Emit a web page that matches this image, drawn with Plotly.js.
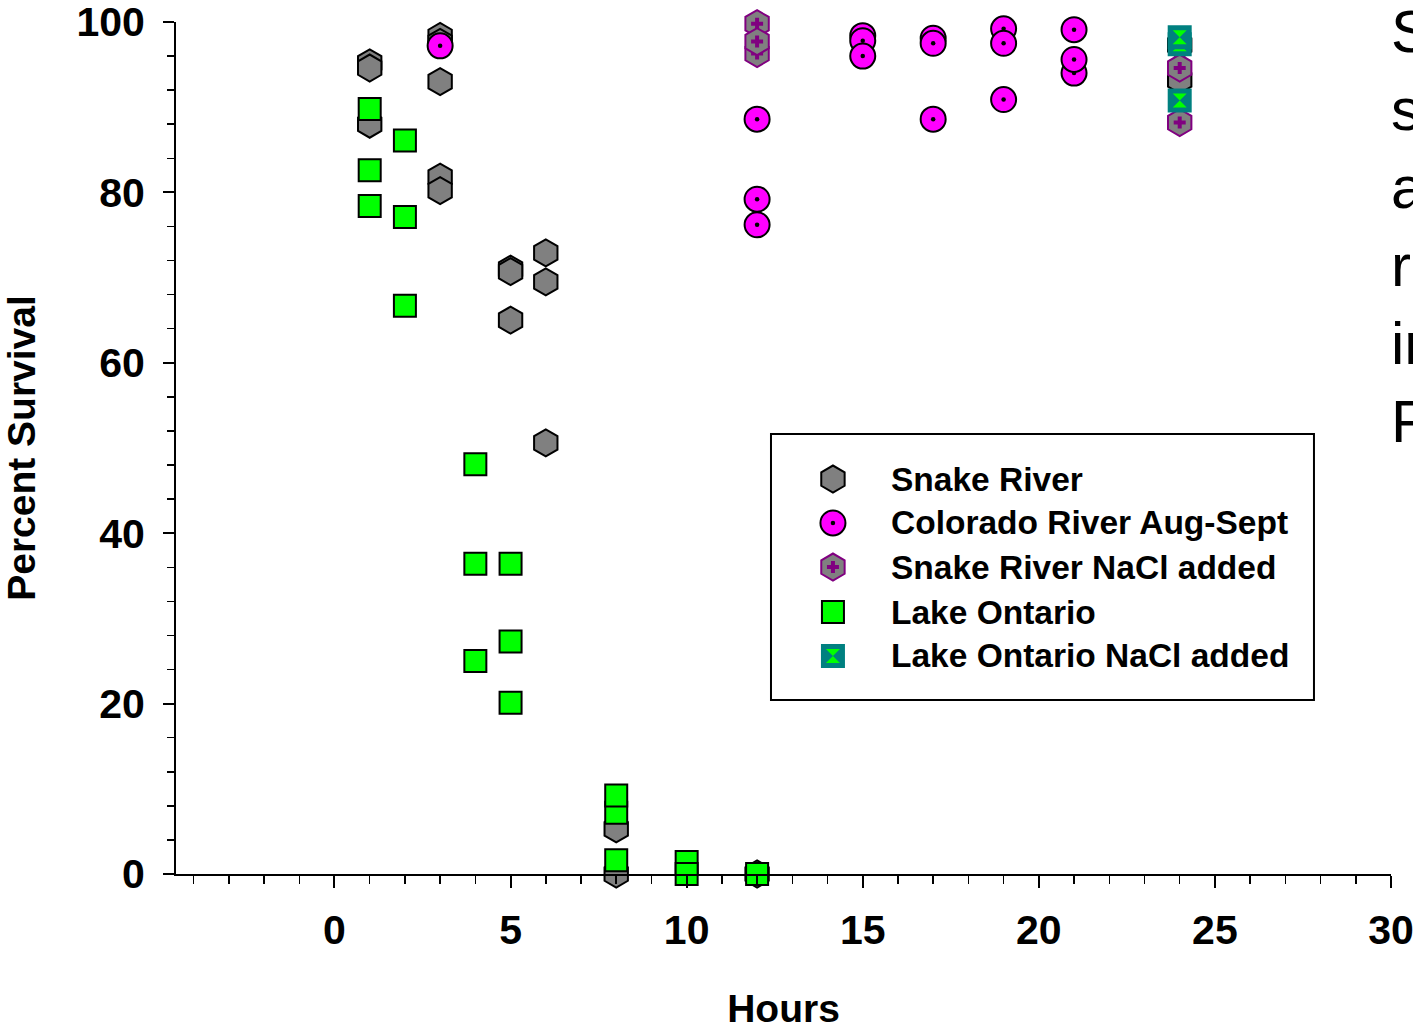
<!DOCTYPE html>
<html>
<head>
<meta charset="utf-8">
<script src="https://cdn.plot.ly/plotly-3.0.1.min.js"></script>
<style>
  html, body { margin: 0; padding: 0; background: #ffffff; overflow: hidden; }
  #chart { width: 1413px; height: 1030px; }
</style>
</head>
<body>
<div id="chart"></div>
<script>
// ---------------- DATA ----------------
const seriesNames = ["Snake River", "Colorado River Aug-Sept", "Snake River NaCl added", "Lake Ontario", "Lake Ontario NaCl added"];

const snakeHours   = [1, 1, 1, 3, 3, 3, 3, 3, 5, 5, 5, 6, 6, 6, 8, 8, 12, 24, 24];
const snakeSurv    = [95.2, 94.6, 88.0, 98.3, 97.6, 93.0, 81.8, 80.2, 71.0, 70.7, 65.0, 72.9, 69.5, 50.6, 5.3, 0, 0, 97.3, 93.2];

const coloradoHours = [3, 12, 12, 12, 15, 15, 15, 17, 17, 17, 19, 19, 19, 21, 21, 21];
const coloradoSurv  = [97.2, 88.6, 79.2, 76.2, 98.4, 97.8, 96.0, 98.1, 97.5, 88.6, 99.2, 97.5, 90.9, 99.1, 94.0, 95.6];

const snakeNaClHours = [12, 12, 12, 24, 24];
const snakeNaClSurv  = [96.3, 99.8, 97.7, 94.6, 88.2];

const ontarioHours = [1, 1, 1, 2, 2, 2, 4, 4, 4, 5, 5, 5, 8, 8, 8, 10, 10, 12];
const ontarioSurv  = [89.8, 82.6, 78.4, 86.1, 77.1, 66.7, 48.1, 36.4, 25.0, 36.4, 27.3, 20.1, 7.2, 9.2, 1.6, 1.4, 0, 0];

const ontarioNaClHours = [24, 24, 24];
const ontarioNaClSurv  = [97.4, 98.2, 90.8];

const xTickVals = [0, 5, 10, 15, 20, 25, 30];
const yTickVals = [0, 20, 40, 60, 80, 100];

const sideTextLines = ["S", "s", "a", "r", "in", "F"];

// ---------------- STYLES ----------------
const styles = [
  { base: { symbol: "hexagon", size: 27, color: "#808080", line: "#000000", lw: 2 } },
  { base: { symbol: "circle", size: 25, color: "#ff00ff", line: "#000000", lw: 2 },
    over: { symbol: "circle", size: 4.5, color: "#000000", line: "#000000", lw: 0 } },
  { base: { symbol: "hexagon", size: 27, color: "#808080", line: "#800080", lw: 2 },
    over: { symbol: "cross", size: 10, color: "#800080", line: "#800080", lw: 0 } },
  { base: { symbol: "square", size: 22, color: "#00ff00", line: "#000000", lw: 2 } },
  { base: { symbol: "square", size: 22, color: "#008080", line: "#008080", lw: 2 },
    over: { symbol: "hourglass", size: 14, color: "#00ff00", line: "#00ff00", lw: 0 } }
];

// One trace per series; composite symbols are interleaved per point so each point is drawn whole.
function makeTrace(name, xs, ys, st, xa, ya) {
  const X = [], Y = [], sym = [], sz = [], col = [], lc = [], lw = [];
  for (let i = 0; i < xs.length; i++) {
    const parts = st.over ? [st.base, st.over] : [st.base];
    for (const p of parts) {
      X.push(xs[i]); Y.push(ys[i]);
      sym.push(p.symbol); sz.push(p.size); col.push(p.color); lc.push(p.line); lw.push(p.lw);
    }
  }
  return {
    type: "scatter", mode: "markers", name: name, x: X, y: Y,
    xaxis: xa, yaxis: ya, cliponaxis: false, showlegend: false, hoverinfo: "x+y",
    marker: { symbol: sym, size: sz, color: col, opacity: 1, line: { color: lc, width: lw } }
  };
}

const allX = [snakeHours, coloradoHours, snakeNaClHours, ontarioHours, ontarioNaClHours];
const allY = [snakeSurv, coloradoSurv, snakeNaClSurv, ontarioSurv, ontarioNaClSurv];

const traces = [];
for (let s = 0; s < seriesNames.length; s++) {
  traces.push(makeTrace(seriesNames[s], allX[s], allY[s], styles[s], "x", "y"));
}

// ---------------- LEGEND (manual, paper-fraction axes) ----------------
const legendMarkerX = 0.5407;
const legendRowY = [0.4636, 0.4120, 0.3603, 0.3075, 0.2559];
const legendTextX = 0.5868;
for (let s = 0; s < seriesNames.length; s++) {
  traces.push(makeTrace(seriesNames[s], [legendMarkerX], [legendRowY[s]], styles[s], "x2", "y2"));
}

const boldFont = (size) => ({ family: "Liberation Sans, Arial, sans-serif", size: size, color: "#000000", weight: "bold" });

const annotations = seriesNames.map((n, i) => ({
  xref: "paper", yref: "paper", x: legendTextX, y: legendRowY[i],
  xanchor: "left", yanchor: "middle", showarrow: false, text: n, font: boldFont(33.5)
}));

annotations.push({
  xref: "paper", yref: "paper", x: 0.9983, y: 1.031, xanchor: "left", yanchor: "top",
  align: "left", showarrow: false, text: sideTextLines.join("<br>"),
  font: { family: "Liberation Sans, Arial, sans-serif", size: 60, color: "#000000" }
});

const layout = {
  width: 1413, height: 1030,
  paper_bgcolor: "#ffffff", plot_bgcolor: "#ffffff",
  margin: { l: 176, r: 22, t: 22, b: 156, pad: 0 },
  showlegend: false,
  xaxis: {
    range: [-4.5, 30], tickvals: xTickVals, ticktext: xTickVals.map(String),
    showgrid: false, zeroline: false, showline: true, linecolor: "#000000", linewidth: 2,
    ticks: "outside", ticklen: 12, tickwidth: 2, tickcolor: "#000000",
    ticklabelstandoff: 7, ticklabeloverflow: "allow",
    minor: { dtick: 1, tick0: 0, ticks: "outside", ticklen: 8, tickwidth: 1.5, tickcolor: "#000000", showgrid: false },
    tickfont: boldFont(41),
    title: { text: "Hours", font: boldFont(39), standoff: 45 }
  },
  yaxis: {
    range: [0, 100], tickvals: yTickVals, ticktext: yTickVals.map(String),
    showgrid: false, zeroline: false, showline: true, linecolor: "#000000", linewidth: 2,
    ticks: "outside", ticklen: 11, tickwidth: 2, tickcolor: "#000000",
    ticklabelstandoff: 10, ticklabeloverflow: "allow",
    minor: { dtick: 4, tick0: 0, ticks: "outside", ticklen: 7, tickwidth: 1.5, tickcolor: "#000000", showgrid: false },
    tickfont: boldFont(41),
    title: { text: "Percent Survival", font: boldFont(39), standoff: 34 }
  },
  xaxis2: { overlaying: "x", range: [0, 1], visible: false, fixedrange: true },
  yaxis2: { overlaying: "y", range: [0, 1], visible: false, fixedrange: true },
  shapes: [{
    type: "rect", xref: "paper", yref: "paper",
    x0: 0.4897, x1: 0.9366, y0: 0.2042, y1: 0.5164,
    line: { color: "#000000", width: 2 }, fillcolor: "rgba(0,0,0,0)", layer: "below"
  }],
  annotations: annotations
};

Plotly.newPlot("chart", traces, layout, { displayModeBar: false, staticPlot: true });
</script>
</body>
</html>
